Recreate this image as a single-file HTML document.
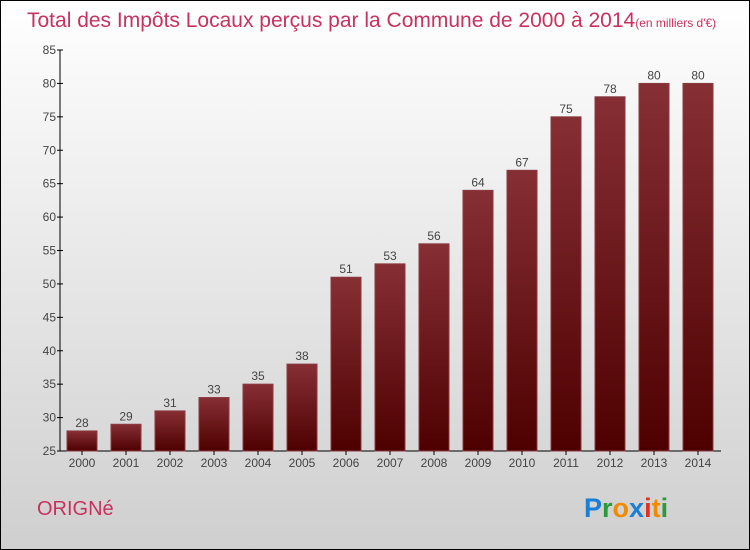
<!DOCTYPE html>
<html><head><meta charset="utf-8"><style>
body{margin:0}
#c{position:relative;width:748px;height:548px;border:1px solid #000;background:linear-gradient(#ffffff,#cfcfcf);font-family:"Liberation Sans",sans-serif;overflow:hidden}
</style></head><body>
<div id="c">
<svg width="748" height="548" style="position:absolute;left:0;top:0">
<defs><linearGradient id="bg" x1="0" y1="0" x2="0" y2="1"><stop offset="0" stop-color="#862f35"/><stop offset="1" stop-color="#4e0000"/></linearGradient></defs>
<text x="26" y="26" font-size="21" fill="#c8325e">Total des Impôts Locaux perçus par la Commune de 2000 à 2014<tspan font-size="12">(en milliers d'€)</tspan></text>
<g id="plot"></g>
<text x="36" y="514" font-size="20" fill="#c8325e">ORIGNé</text>
<text x="583" y="516" font-size="27" font-weight="bold"><tspan fill="#1a7fd6">P</tspan><tspan fill="#2a9a3a">r</tspan><tspan fill="#f08a00">o</tspan><tspan fill="#1a7fd6">x</tspan><tspan fill="#e03020">i</tspan><tspan fill="#f08a00">t</tspan><tspan fill="#2a9a3a">i</tspan></text>
</svg>
</div>
<script>
const years=["2000","2001","2002","2003","2004","2005","2006","2007","2008","2009","2010","2011","2012","2013","2014"];
const values=[28,29,31,33,35,38,51,53,56,64,67,75,78,80,80];
const yTicks=[25,30,35,40,45,50,55,60,65,70,75,80,85];
const NS="http://www.w3.org/2000/svg";
const g=document.getElementById('plot');
const y0=450,y1=49,vmin=25,vmax=85;
const ys=v=>y0-(v-vmin)*(y0-y1)/(vmax-vmin);
const xs=i=>81+i*44;
function mk(t,a){const e=document.createElementNS(NS,t);for(const k in a)e.setAttribute(k,a[k]);g.appendChild(e);return e;}
let e=mk('line',{x1:59,y1:y1,x2:59,y2:y0,stroke:'#000'});


e=mk('line',{x1:59,y1:y0,x2:720,y2:y0,stroke:'#000'});


yTicks.forEach(t=>{
 const y=ys(t);
 mk('line',{x1:56,y1:y,x2:62,y2:y,stroke:'#000'});
 const tx=mk('text',{x:55,y:y+4,'font-size':12,'text-anchor':'end',fill:'#444'});
 tx.textContent=t;
 
 
});
years.forEach((yr,i)=>{
 const x=xs(i),v=values[i];
 const r=mk('rect',{x:x-15,y:ys(v),width:30,height:y0-ys(v),fill:'url(#bg)',stroke:'#8a3a40','stroke-width':1});
 
 
 const l=mk('text',{x:x,y:ys(v)-4,'font-size':12,'text-anchor':'middle',fill:'#444'});
 l.textContent=v;
 
 
 mk('line',{x1:x,y1:y0,x2:x,y2:y0+4,stroke:'#000'});
 const xl=mk('text',{x:x,y:466,'font-size':12,'text-anchor':'middle',fill:'#444'});
 xl.textContent=yr;
 
 
});
</script>
</body></html>
